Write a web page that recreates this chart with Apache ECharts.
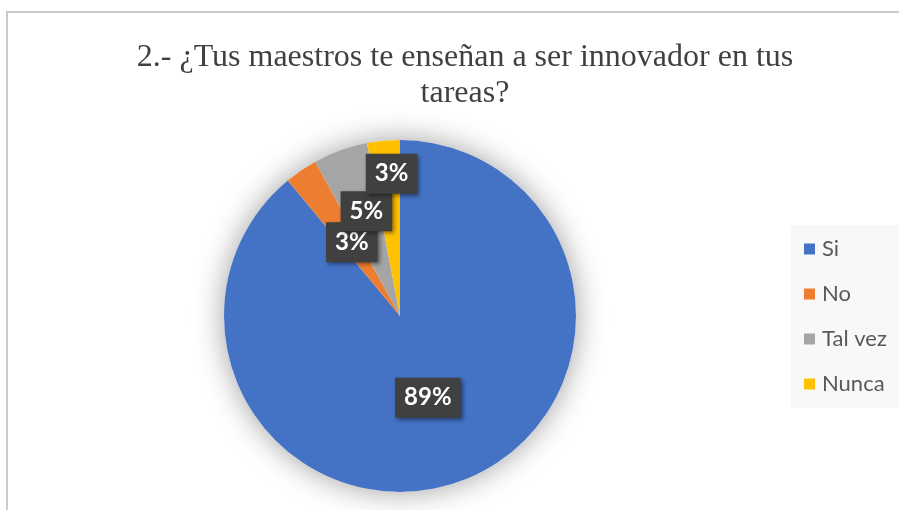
<!DOCTYPE html>
<html><head><meta charset="utf-8">
<script src="https://cdn.jsdelivr.net/npm/echarts@6/dist/echarts.min.js"></script>
<style>html,body{margin:0;padding:0;background:#fff}#c{width:899px;height:510px}</style>
</head><body><div id="c"></div>
<script>
const titleText = '2.- ¿Tus maestros te enseñan a ser innovador en tus\ntareas?';
const categories = ['Si', 'No', 'Tal vez', 'Nunca'];
const percentages = [89, 3, 5, 3];
const colors = ['#4472C4', '#ED7D31', '#A5A5A5', '#FFC000'];

// layout (not data): label distance from centre as a fraction of the radius, and small angular nudges
const labelRadiusRatio = [0.49, 0.5, 0.625, 0.81];
const labelAngleShift = [1, 1, 2, 2];
const pieCenter = [400, 316];
const pieRadius = 176;

const chart = echarts.init(document.getElementById('c'), null, {renderer: 'canvas'});
chart.setOption({
  animation: false,
  backgroundColor: '#ffffff',
  graphic: [{
    type: 'rect', silent: true, z: -10,
    shape: {x: 7, y: 12, width: 1100, height: 800},
    style: {fill: 'none', stroke: '#cacaca', lineWidth: 2}
  }],
  title: {
    text: titleText, left: 460, top: 35, textAlign: 'center',
    textStyle: {fontFamily: 'Liberation Serif', fontSize: 32, fontWeight: 'normal', color: '#404040', lineHeight: 36}
  },
  legend: {
    orient: 'vertical', left: 791, top: 225, data: categories,
    icon: 'rect', itemWidth: 11, itemHeight: 11, itemGap: 23,
    padding: [13, 40, 13, 13], backgroundColor: '#f8f8f8',
    selectedMode: false,
    textStyle: {fontFamily: 'Lato', fontSize: 22, color: '#595959', lineHeight: 21, padding: [0, 0, 0, 2]}
  },
  series: [
    {
      type: 'pie', name: 'sombra', center: pieCenter, radius: pieRadius, silent: true,
      label: {show: false}, labelLine: {show: false}, emphasis: {disabled: true},
      data: [{name: 'total', value: percentages.reduce((a, b) => a + b, 0)}],
      itemStyle: {color: '#ffffff', shadowBlur: 30, shadowColor: 'rgba(0,0,0,0.38)'}
    },
    {
      type: 'pie', name: 'Respuestas', center: pieCenter, radius: pieRadius,
      startAngle: 90, clockwise: true, percentPrecision: 0,
      emphasis: {disabled: true},
      data: categories.map((c, i) => ({name: c, value: percentages[i], itemStyle: {color: colors[i]}})),
      label: {
        show: true, position: 'inside', formatter: '{d}%',
        fontFamily: 'Lato', fontWeight: 'bold', fontSize: 24, lineHeight: 24, color: '#ffffff',
        backgroundColor: '#404040', padding: [8, 9],
        shadowColor: 'rgba(0,0,0,0.45)', shadowBlur: 4, shadowOffsetX: 2, shadowOffsetY: 2
      },
      labelLine: {show: false},
      labelLayout: function (p) {
        const r = p.labelRect;
        const cx = r.x + r.width / 2, cy = r.y + r.height / 2;
        const i = p.dataIndex;
        const a = Math.atan2(cy - pieCenter[1], cx - pieCenter[0]) + labelAngleShift[i] * Math.PI / 180;
        const d = labelRadiusRatio[i] * pieRadius;
        const nx = pieCenter[0] + d * Math.cos(a), ny = pieCenter[1] + d * Math.sin(a);
        return {dx: nx - cx, dy: ny - cy};
      }
    }
  ]
});
</script>
</body></html>
